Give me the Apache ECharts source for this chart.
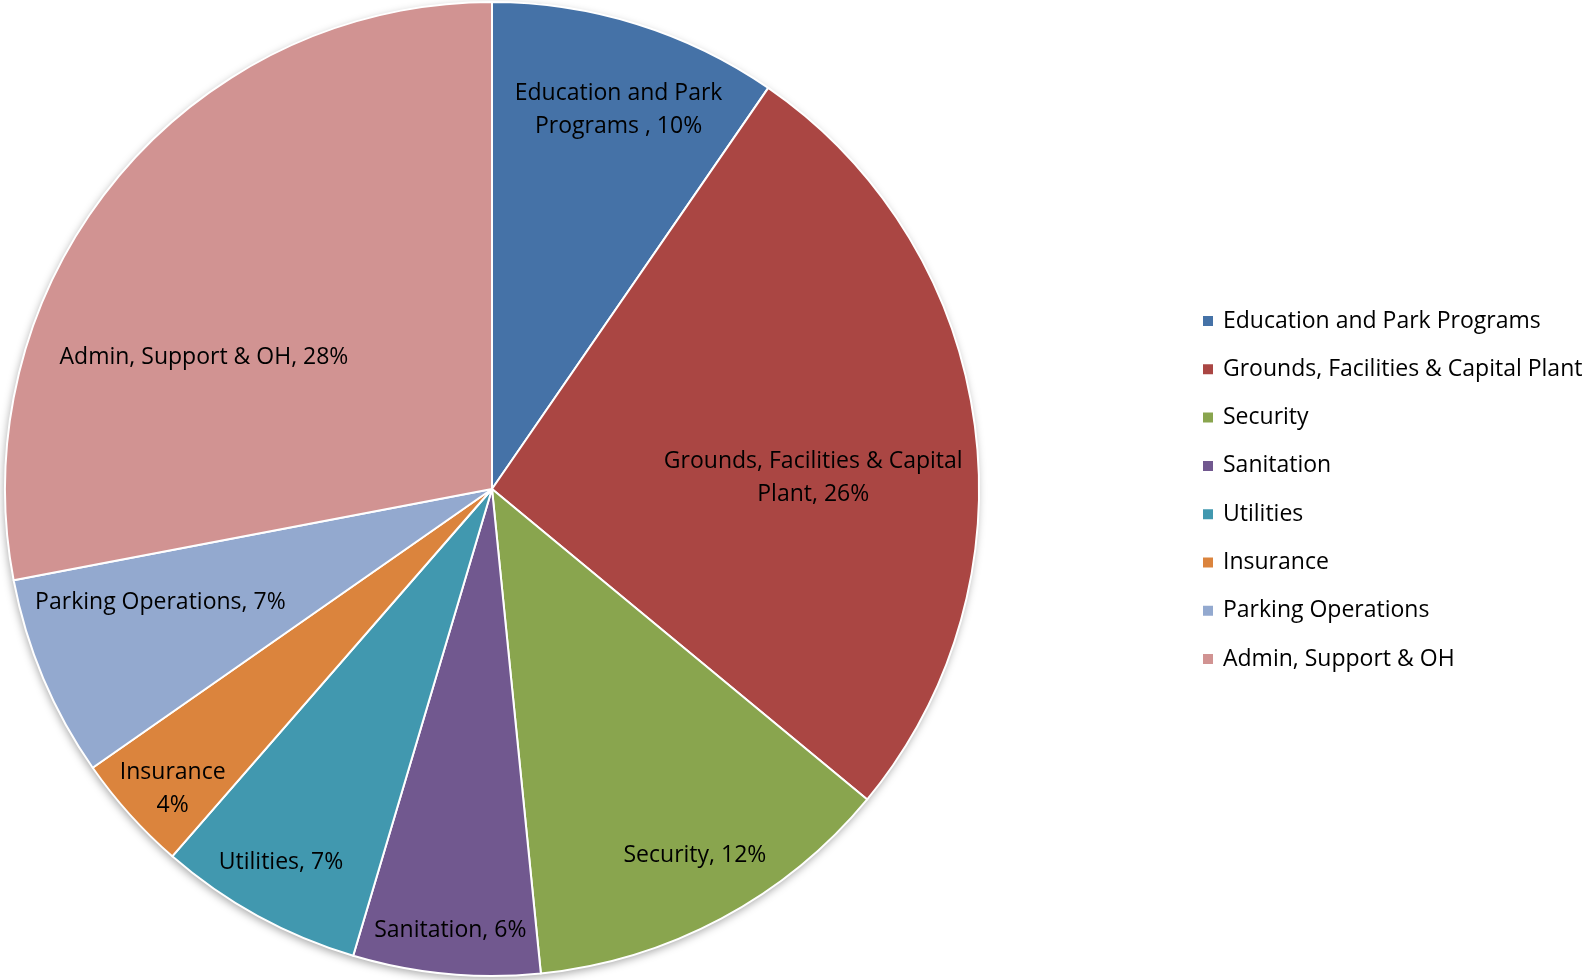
<!DOCTYPE html>
<html>
<head>
<meta charset="utf-8">
<script src="https://cdn.jsdelivr.net/npm/echarts@6/dist/echarts.min.js"></script>
<style>
  html, body { margin: 0; padding: 0; background: #ffffff; }
  #chart { width: 1587px; height: 980px; }
</style>
</head>
<body>
<div id="chart"></div>
<script>
// Budget split by program area (share of total, %)
const categories = [
  'Education and Park Programs',
  'Grounds, Facilities & Capital Plant',
  'Security',
  'Sanitation',
  'Utilities',
  'Insurance',
  'Parking Operations',
  'Admin, Support & OH'
];
const shares = [9.6, 26.4, 12.4, 6.2, 6.8, 3.9, 6.7, 28.0];

// Slice label templates ({p} is replaced by the rounded percentage)
const labelTemplates = [
  'Education and Park\nPrograms , {p}%',
  'Grounds, Facilities & Capital\nPlant, {p}%',
  'Security, {p}%',
  'Sanitation, {p}%',
  'Utilities, {p}%',
  'Insurance\n{p}%',
  'Parking Operations, {p}%',
  'Admin, Support & OH, {p}%'
];

const colors = ['#4572A7', '#AA4643', '#89A54E', '#71588F', '#4198AF', '#DB843D', '#93A9CF', '#D19392'];

// Where each label sits: fraction of the radius and a small angular nudge (deg, clockwise)
const labelRadius = [0.82, 0.66, 0.86, 0.91, 0.88, 0.90, 0.72, 0.65];
const labelTurn = [1.2, 6.0, -0.9, 0, 0.7, -1.3, 3.9, -15.1];

const FONT = '"Open Sans", Lato, sans-serif';
const CX = 492, CY = 489, R = 487;

const chart = echarts.init(document.getElementById('chart'), null, { renderer: 'canvas' });

chart.setOption({
  animation: false,
  backgroundColor: '#ffffff',
  color: colors,
  legend: {
    orient: 'vertical',
    left: 1201,
    top: 309,
    padding: 0,
    itemWidth: 12,
    itemHeight: 12,
    itemGap: 24.3,
    icon: 'rect',
    data: categories,
    textStyle: {
      fontFamily: FONT, fontSize: 23, color: '#000000',
      lineHeight: 24, padding: [0, 0, 0, 4]
    },
    selectedMode: false
  },
  series: [
    {
      // soft drop shadow under the whole disc
      type: 'pie',
      silent: true,
      center: [CX, CY],
      radius: [0, R],
      data: [{ value: 1, name: '' }],
      label: { show: false },
      labelLine: { show: false },
      itemStyle: {
        color: '#ffffff',
        shadowBlur: 8,
        shadowColor: 'rgba(0,0,0,0.35)',
        shadowOffsetX: -1,
        shadowOffsetY: 3
      },
      z: 1
    },
    {
      type: 'pie',
      center: [CX, CY],
      radius: [0, R],
      startAngle: 90,
      clockwise: true,
      percentPrecision: 0,
      data: categories.map((name, i) => ({ name: name, value: shares[i] })),
      itemStyle: { borderColor: '#ffffff', borderWidth: 2 },
      label: {
        show: true,
        position: 'inside',
        fontFamily: FONT,
        fontSize: 23,
        lineHeight: 33,
        color: '#000000',
        align: 'center',
        formatter: p => labelTemplates[p.dataIndex].replace('{p}', p.percent)
      },
      labelLine: { show: false },
      labelLayout: function (params) {
        const i = params.dataIndex;
        const rect = params.labelRect;
        const lx = rect.x + rect.width / 2;
        const ly = rect.y + rect.height / 2;
        const vx = lx - CX, vy = ly - CY;
        const a = Math.atan2(vx, -vy) + labelTurn[i] * Math.PI / 180;
        const r = R * labelRadius[i];
        const nx = CX + r * Math.sin(a);
        const ny = CY - r * Math.cos(a);
        return { dx: nx - lx, dy: ny - ly };
      },
      emphasis: { disabled: true },
      z: 2
    }
  ]
});
</script>
</body>
</html>
